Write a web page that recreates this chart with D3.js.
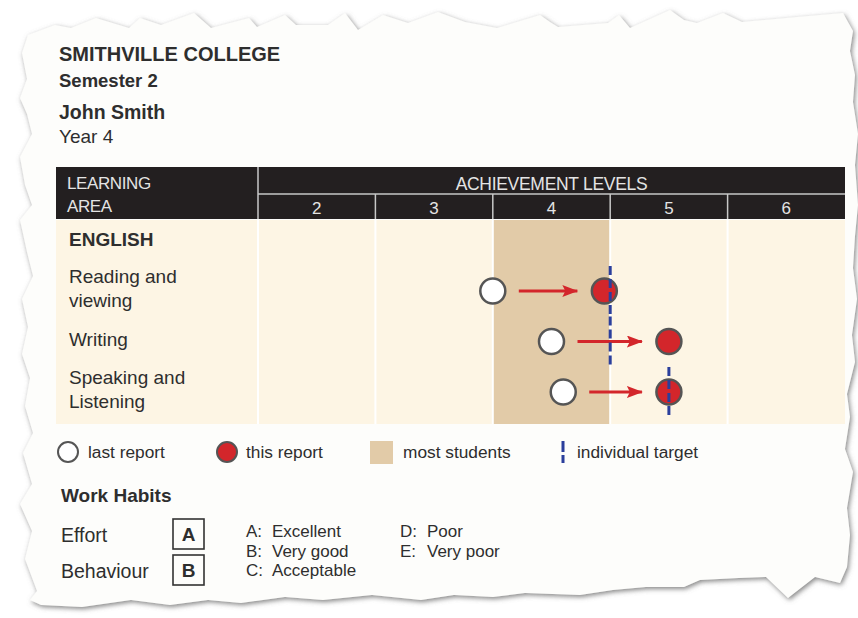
<!DOCTYPE html>
<html>
<head>
<meta charset="utf-8">
<script src="https://cdn.jsdelivr.net/npm/d3@7"></script>
<style>
  html, body { margin: 0; padding: 0; background: #fff; }
  svg { display: block; font-family: "Liberation Sans", Arial, sans-serif; }
</style>
</head>
<body>
<div id="chart"></div>
<script>
// report data
const school = 'SMITHVILLE COLLEGE';
const term = 'Semester 2';
const student = 'John Smith';
const yearLevel = 'Year 4';
const subject = 'ENGLISH';

const levels = [2, 3, 4, 5, 6];
const areas = ['Reading and viewing', 'Writing', 'Speaking and Listening'];
const areaLines = [['Reading and', 'viewing'], ['Writing'], ['Speaking and', 'Listening']];
const lastReport = [3.5, 4.0, 4.1];
const thisReport = [4.45, 5.0, 5.0];
const targets = [4.5, 4.5, 5.0];
const mostStudents = [3.5, 4.5]; // level band where most students sit

const habits = ['Effort', 'Behaviour'];
const habitGrades = ['A', 'B'];
const gradeLetters = ['A', 'B', 'C', 'D', 'E'];
const gradeNames = ['Excellent', 'Very good', 'Acceptable', 'Poor', 'Very poor'];

// colours
const ink = '#2e2e2e';
const headBlack = '#231f20';
const cream = '#fdf5e4';
const bandColor = '#e2cba8';
const red = '#d3262b';
const blue = '#2b3f9c';
const ringColor = '#555';

const width = 858;
const height = 618;

const svg = d3.select('#chart')
  .append('svg')
  .attr('width', width)
  .attr('height', height);

// torn paper outline (decoration only)
const paperEdge = [
  [28, 35], [55, 25], [71, 28], [96, 18], [129, 28], [140, 18], [161, 25], [194, 13],
  [211, 28], [249, 18], [257, 27], [285, 15], [296, 25], [328, 25], [345, 13], [358, 30],
  [383, 15], [408, 23], [438, 12], [465, 22], [497, 28], [540, 15], [550, 22], [558, 27],
  [608, 23], [619, 15], [630, 28], [670, 10], [684, 20], [697, 23], [723, 13], [742, 22],
  [797, 17], [843, 13],
  [853, 31], [850, 51], [855, 75], [853, 102], [858, 134], [855, 165], [858, 205],
  [855, 236], [853, 268], [857, 299], [852, 335], [855, 362], [847, 394], [850, 417],
  [845, 449], [853, 472], [847, 508], [850, 535], [847, 567], [840, 583],
  [815, 577], [788, 598], [766, 577], [739, 578], [700, 580], [684, 587], [646, 587],
  [613, 590], [580, 595], [525, 593], [493, 597], [454, 595], [421, 600], [372, 595],
  [323, 600], [285, 597], [241, 603], [208, 600], [170, 605], [131, 600], [82, 607],
  [41, 605], [30, 600],
  [37, 591], [25, 559], [32, 531], [20, 504], [32, 484], [23, 453], [33, 433], [25, 406],
  [30, 378], [22, 354], [28, 327], [22, 299], [33, 276], [27, 252], [20, 220], [32, 205],
  [25, 185], [20, 157], [32, 134], [27, 114], [20, 98], [27, 79], [22, 53]
];

const defs = svg.append('defs');
const shadow = defs.append('filter')
  .attr('id', 'paper-shadow')
  .attr('x', '-5%').attr('y', '-5%')
  .attr('width', '110%').attr('height', '110%');
shadow.append('feDropShadow')
  .attr('dx', 1.5).attr('dy', 2)
  .attr('stdDeviation', 2.5)
  .attr('flood-color', '#6f6f6f')
  .attr('flood-opacity', 0.85);

svg.append('path')
  .attr('d', d3.line()(paperEdge) + 'Z')
  .attr('fill', '#fdfdfb')
  .attr('filter', 'url(#paper-shadow)');

// title block
const titles = [
  { text: school, y: 61, size: 20, weight: 'bold' },
  { text: term, y: 87, size: 18.5, weight: 'bold' },
  { text: student, y: 119, size: 19.5, weight: 'bold' },
  { text: yearLevel, y: 143, size: 19, weight: 'normal' }
];
svg.append('g')
  .selectAll('text')
  .data(titles)
  .join('text')
  .attr('x', 59)
  .attr('y', (d) => d.y)
  .attr('font-size', (d) => d.size)
  .attr('font-weight', (d) => d.weight)
  .attr('fill', ink)
  .text((d) => d.text);

// table scales
const tableLeft = 56;
const tableRight = 845;
const labelRight = 258;
const headTop = 167;
const headMid = 194;
const headBottom = 219;
const bodyTop = 220;
const bodyBottom = 424;

const x = d3.scaleLinear()
  .domain([d3.min(levels) - 0.5, d3.max(levels) + 0.5])
  .range([labelRight, tableRight]);

const y = d3.scalePoint()
  .domain(areas)
  .range([291, 392]);

const boundaries = levels.slice(1).map((l) => l - 0.5);

// header
const head = svg.append('g');
head.append('rect')
  .attr('x', tableLeft).attr('y', headTop)
  .attr('width', tableRight - tableLeft).attr('height', headBottom - headTop)
  .attr('fill', headBlack);
head.append('line')
  .attr('x1', labelRight).attr('x2', tableRight)
  .attr('y1', headMid).attr('y2', headMid)
  .attr('stroke', '#9c9c9c').attr('stroke-width', 2);
head.append('line')
  .attr('x1', labelRight).attr('x2', labelRight)
  .attr('y1', headTop).attr('y2', headBottom)
  .attr('stroke', '#c8c8c8').attr('stroke-width', 1.5);
head.selectAll('.div')
  .data(boundaries)
  .join('line')
  .attr('x1', (d) => x(d)).attr('x2', (d) => x(d))
  .attr('y1', headMid).attr('y2', headBottom)
  .attr('stroke', '#c8c8c8').attr('stroke-width', 1.5);

head.selectAll('.area-head')
  .data(['LEARNING', 'AREA'])
  .join('text')
  .attr('x', 67)
  .attr('y', (d, i) => 189 + i * 23)
  .attr('font-size', 17)
  .attr('letter-spacing', -0.4)
  .attr('fill', '#e4e4e4')
  .text((d) => d);

head.append('text')
  .attr('x', (labelRight + tableRight) / 2)
  .attr('y', 190)
  .attr('text-anchor', 'middle')
  .attr('font-size', 17.5)
  .attr('letter-spacing', -0.3)
  .attr('fill', '#e4e4e4')
  .text('ACHIEVEMENT LEVELS');

head.selectAll('.level')
  .data(levels)
  .join('text')
  .attr('x', (d) => x(d))
  .attr('y', 214)
  .attr('text-anchor', 'middle')
  .attr('font-size', 17)
  .attr('fill', '#e4e4e4')
  .text((d) => d);

// body
const body = svg.append('g');
body.append('rect')
  .attr('x', tableLeft).attr('y', bodyTop)
  .attr('width', tableRight - tableLeft).attr('height', bodyBottom - bodyTop)
  .attr('fill', cream);
body.append('rect')
  .attr('x', x(mostStudents[0])).attr('y', bodyTop)
  .attr('width', x(mostStudents[1]) - x(mostStudents[0]))
  .attr('height', bodyBottom - bodyTop)
  .attr('fill', bandColor);
body.selectAll('.grid')
  .data([x.domain()[0]].concat(boundaries))
  .join('line')
  .attr('x1', (d) => x(d)).attr('x2', (d) => x(d))
  .attr('y1', bodyTop).attr('y2', bodyBottom)
  .attr('stroke', '#fff').attr('stroke-width', 2);

body.append('text')
  .attr('x', 69).attr('y', 246)
  .attr('font-size', 19)
  .attr('font-weight', 'bold')
  .attr('fill', ink)
  .text(subject);

body.selectAll('.area-label')
  .data(areas)
  .join('text')
  .attr('font-size', 19)
  .attr('fill', ink)
  .each(function (d, i) {
    const lines = areaLines[i];
    const y0 = lines.length > 1 ? y(d) - 8 : y(d) + 4;
    d3.select(this).selectAll('tspan')
      .data(lines)
      .join('tspan')
      .attr('x', 69)
      .attr('y', (t, j) => y0 + j * 24)
      .text((t) => t);
  });

// arrows from last to this report
defs.append('marker')
  .attr('id', 'arrow')
  .attr('viewBox', '0 0 16 12')
  .attr('refX', 15).attr('refY', 6)
  .attr('markerWidth', 16).attr('markerHeight', 12)
  .attr('markerUnits', 'userSpaceOnUse')
  .attr('orient', 'auto')
  .append('path')
  .attr('d', 'M0,0L16,6L0,12L3,6Z')
  .attr('fill', red);

const rowData = areas.map((a, i) => ({
  area: a, last: lastReport[i], now: thisReport[i], target: targets[i]
}));

body.selectAll('.arrow')
  .data(rowData)
  .join('line')
  .attr('x1', (d) => x(d.last) + 26)
  .attr('x2', (d) => x(d.now) - 27)
  .attr('y1', (d) => y(d.area)).attr('y2', (d) => y(d.area))
  .attr('stroke', red).attr('stroke-width', 3)
  .attr('marker-end', 'url(#arrow)');

body.selectAll('.last')
  .data(rowData)
  .join('circle')
  .attr('cx', (d) => x(d.last))
  .attr('cy', (d) => y(d.area))
  .attr('r', 12.5)
  .attr('fill', '#fff')
  .attr('stroke', ringColor).attr('stroke-width', 2.5);

body.selectAll('.now')
  .data(rowData)
  .join('circle')
  .attr('cx', (d) => x(d.now))
  .attr('cy', (d) => y(d.area))
  .attr('r', 12.5)
  .attr('fill', red)
  .attr('stroke', ringColor).attr('stroke-width', 2.5);

body.selectAll('.target')
  .data(rowData)
  .join('line')
  .attr('x1', (d) => x(d.target)).attr('x2', (d) => x(d.target))
  .attr('y1', (d) => y(d.area) - 25).attr('y2', (d) => y(d.area) + 25)
  .attr('stroke', blue).attr('stroke-width', 3)
  .attr('stroke-dasharray', '9,4');

// legend
const legendY = 452;
const legend = svg.append('g').attr('font-size', 17.3).attr('fill', ink);
legend.append('circle')
  .attr('cx', 68).attr('cy', legendY).attr('r', 10)
  .attr('fill', '#fff').attr('stroke', ringColor).attr('stroke-width', 2);
legend.append('text').attr('x', 88).attr('y', legendY + 5.5).text('last report');
legend.append('circle')
  .attr('cx', 227).attr('cy', legendY).attr('r', 10)
  .attr('fill', red).attr('stroke', ringColor).attr('stroke-width', 2);
legend.append('text').attr('x', 246).attr('y', legendY + 5.5).text('this report');
legend.append('rect')
  .attr('x', 370).attr('y', 441).attr('width', 23).attr('height', 23)
  .attr('fill', bandColor);
legend.append('text').attr('x', 403).attr('y', legendY + 5.5).text('most students');
legend.append('line')
  .attr('x1', 563).attr('x2', 563).attr('y1', 441).attr('y2', 463)
  .attr('stroke', blue).attr('stroke-width', 3)
  .attr('stroke-dasharray', '11,3');
legend.append('text').attr('x', 577).attr('y', legendY + 5.5).text('individual target');

// work habits
const work = svg.append('g').attr('fill', ink);
work.append('text')
  .attr('x', 61).attr('y', 502)
  .attr('font-size', 19).attr('font-weight', 'bold')
  .text('Work Habits');

const habitRow = d3.scalePoint().domain(habits).range([534, 570]);

work.selectAll('.habit')
  .data(habits)
  .join('text')
  .attr('x', 61)
  .attr('y', (d) => habitRow(d) + 8)
  .attr('font-size', 19.5)
  .text((d) => d);

work.selectAll('.box')
  .data(habits)
  .join('rect')
  .attr('x', 173).attr('y', (d) => habitRow(d) - 15)
  .attr('width', 31).attr('height', 30)
  .attr('fill', 'none')
  .attr('stroke', '#333').attr('stroke-width', 1.6);

work.selectAll('.grade')
  .data(habits)
  .join('text')
  .attr('x', 188.5)
  .attr('y', (d) => habitRow(d) + 7)
  .attr('text-anchor', 'middle')
  .attr('font-size', 19).attr('font-weight', 'bold')
  .text((d, i) => habitGrades[i]);

const keyG = work.append('g').attr('font-size', 17);
keyG.selectAll('.key-letter')
  .data(gradeLetters)
  .join('text')
  .attr('x', (d, i) => (i < 3 ? 246 : 400))
  .attr('y', (d, i) => 537 + (i % 3) * 19.5)
  .text((d) => d + ':');
keyG.selectAll('.key-name')
  .data(gradeNames)
  .join('text')
  .attr('x', (d, i) => (i < 3 ? 272 : 427))
  .attr('y', (d, i) => 537 + (i % 3) * 19.5)
  .text((d) => d);
</script>
</body>
</html>
